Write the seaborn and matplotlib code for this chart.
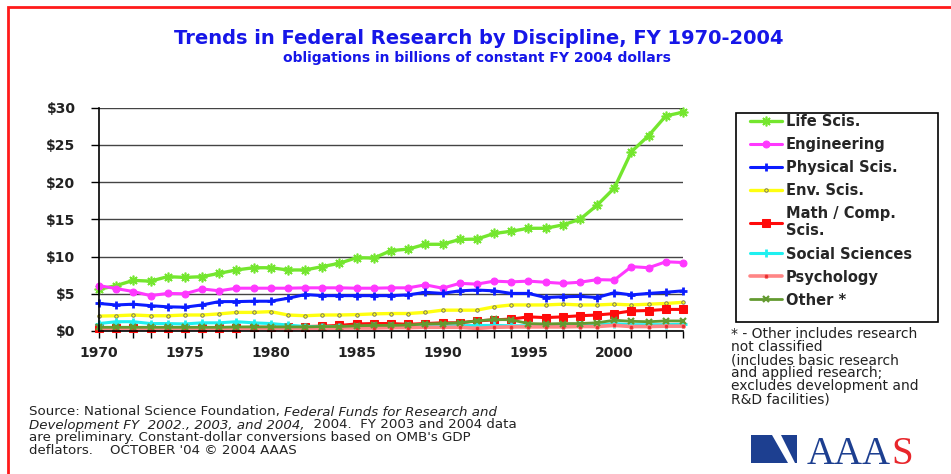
import numpy as np
import pandas as pd
import seaborn as sns
import matplotlib.pyplot as plt
from matplotlib.patches import Rectangle, Polygon
from matplotlib.ticker import MultipleLocator, FixedLocator

# obligations in billions of constant FY 2004 dollars
years = list(range(1970, 2005))

life = [5.6, 6.1, 6.8, 6.7, 7.3, 7.2, 7.3, 7.75, 8.2, 8.5, 8.5, 8.2, 8.2, 8.65, 9.1, 9.85, 9.8, 10.8,
        11.0, 11.65, 11.65, 12.3, 12.35, 13.1, 13.4, 13.8, 13.8, 14.25, 15.0, 16.9, 19.2, 24.1, 26.25, 28.9, 29.4]
engineering = [6.1, 5.7, 5.3, 4.75, 5.05, 5.0, 5.65, 5.4, 5.75, 5.75, 5.75, 5.75, 5.8, 5.8, 5.8, 5.75, 5.75, 5.8,
               5.8, 6.2, 5.75, 6.4, 6.3, 6.7, 6.6, 6.7, 6.55, 6.4, 6.55, 6.9, 6.85, 8.65, 8.5, 9.3, 9.2]
physical = [3.7, 3.5, 3.6, 3.4, 3.25, 3.2, 3.5, 3.95, 3.95, 4.0, 4.0, 4.4, 4.9, 4.75, 4.75, 4.75, 4.75, 4.75,
            4.85, 5.2, 5.05, 5.4, 5.5, 5.4, 5.05, 5.05, 4.5, 4.6, 4.65, 4.5, 5.15, 4.85, 5.05, 5.2, 5.4]
environment = [2.0, 2.05, 2.15, 2.05, 2.05, 2.15, 2.15, 2.3, 2.5, 2.5, 2.6, 2.15, 2.05, 2.15, 2.15, 2.2, 2.3, 2.35,
               2.35, 2.5, 2.8, 2.8, 2.8, 3.25, 3.5, 3.5, 3.5, 3.6, 3.5, 3.5, 3.6, 3.5, 3.6, 3.7, 3.85]
math_comp = [0.4, 0.4, 0.4, 0.4, 0.4, 0.4, 0.45, 0.45, 0.45, 0.5, 0.5, 0.55, 0.6, 0.65, 0.75, 0.95, 1.0, 1.0,
             0.9, 1.0, 1.1, 1.1, 1.35, 1.5, 1.6, 1.9, 1.8, 1.9, 2.05, 2.15, 2.35, 2.7, 2.75, 2.9, 2.9]
social = [1.0, 1.25, 1.25, 1.0, 1.0, 0.95, 1.1, 1.1, 1.25, 1.1, 1.0, 0.8, 0.6, 0.6, 0.6, 0.6, 0.65, 0.65,
          0.65, 0.7, 0.7, 0.7, 0.75, 0.75, 0.7, 0.7, 0.7, 0.7, 0.75, 0.8, 1.0, 0.85, 0.85, 0.85, 0.9]
psychology = [0.35, 0.35, 0.35, 0.35, 0.35, 0.35, 0.35, 0.35, 0.35, 0.35, 0.35, 0.35, 0.35, 0.35, 0.4, 0.4, 0.4, 0.45,
              0.45, 0.5, 0.5, 0.5, 0.35, 0.5, 0.55, 0.55, 0.55, 0.55, 0.6, 0.6, 0.75, 0.6, 0.6, 0.65, 0.65]
other = [0.5, 0.5, 0.5, 0.5, 0.5, 0.5, 0.5, 0.5, 0.55, 0.55, 0.55, 0.55, 0.55, 0.6, 0.6, 0.7, 0.75, 0.75,
         0.8, 0.95, 1.0, 1.1, 1.35, 1.55, 1.5, 1.0, 0.95, 1.0, 1.0, 1.1, 1.45, 1.3, 1.25, 1.35, 1.35]

labels = ["Life Scis.", "Engineering", "Physical Scis.", "Env. Scis.", "Math / Comp.\nScis.",
          "Social Sciences", "Psychology", "Other *"]
y_ticks = [0, 5, 10, 15, 20, 25, 30]
y_ticklabels = ["$0", "$5", "$10", "$15", "$20", "$25", "$30"]
x_ticks = [1970, 1975, 1980, 1985, 1990, 1995, 2000]

series = [life, engineering, physical, environment, math_comp, social, psychology, other]
styles = [
    dict(color="#74e62e", marker=(8, 2, 0), markersize=7, markeredgewidth=1.2, markeredgecolor="#74e62e",
         linewidth=2.4),
    dict(color="#ff38ff", marker="o", markersize=5, markeredgecolor="#ff38ff", linewidth=2.2),
    dict(color="#0b1cff", marker="+", markersize=6, markeredgewidth=2, markeredgecolor="#0b1cff", linewidth=2.2),
    dict(color="#ffff10", marker="o", markersize=2.5, markerfacecolor="#ffff10", markeredgecolor="#666666",
         markeredgewidth=0.6, linewidth=2.4),
    dict(color="#ff0a0a", marker="s", markersize=5.5, markeredgecolor="#ff0a0a", linewidth=2.2),
    dict(color="#1ff0f0", marker="+", markersize=6, markeredgewidth=2, markeredgecolor="#1ff0f0", linewidth=2.2),
    dict(color="#ff8585", marker="o", markersize=3, markerfacecolor="#e83030", markeredgecolor="#ff8585",
         markeredgewidth=0.5, linewidth=2.6),
    dict(color="#639a30", marker="x", markersize=5, markeredgewidth=1.6, markeredgecolor="#639a30", linewidth=2.0),
]

W, H = 951, 474

def px(x, y):
    return x / W, 1 - y / H

sns.set_style("white")
plt.rcParams["font.family"] = ["DejaVu Sans"]

fig = plt.figure(figsize=(W / 100, H / 100), dpi=100)
ax = fig.add_axes([99 / W, 1 - 331 / H, (683 - 99) / W, (331 - 107.7) / H])

for vals, lab, st in zip(series, labels, styles):
    sns.lineplot(x=years, y=vals, ax=ax, label=lab, clip_on=False, **st)

if ax.get_legend() is not None:
    ax.get_legend().remove()

ax.set_xlim(1970, 2004)
ax.set_ylim(0, 30)
ax.set_xlabel("")
ax.set_ylabel("")

ax.yaxis.set_major_locator(FixedLocator(y_ticks))
ax.set_yticklabels(y_ticklabels, fontsize=10, fontweight="bold", color="#222222")
ax.xaxis.set_major_locator(FixedLocator(x_ticks))
ax.xaxis.set_minor_locator(MultipleLocator(1))
ax.set_xticklabels([str(y) for y in x_ticks], fontsize=10, fontweight="bold", color="#222222")
ax.tick_params(axis="x", which="both", direction="out", length=5, width=1, color="black", bottom=True, pad=6)
ax.tick_params(axis="y", which="major", direction="out", length=6, width=1, color="black", left=True, pad=11)

ax.grid(axis="y", color="#444444", linewidth=1)
ax.grid(axis="x", visible=False)
ax.set_axisbelow(True)
for side in ["top", "right"]:
    ax.spines[side].set_visible(False)
for side in ["left", "bottom"]:
    ax.spines[side].set_color("black")
    ax.spines[side].set_linewidth(1.2)

# legend
handles, labs = ax.get_legend_handles_labels()
fig.legend(handles, labs, loc="upper left", bbox_to_anchor=px(750, 114), frameon=False,
           borderpad=0, borderaxespad=0, handlelength=2.2, handletextpad=0.25, labelspacing=0.55,
           prop={"weight": "bold", "size": 10.5})
x0, y0 = px(736, 322)
x1, y1 = px(938, 113)
fig.patches.append(Rectangle((x0, y0), x1 - x0, y1 - y0, transform=fig.transFigure,
                             fill=False, edgecolor="black", linewidth=1.2))

note = ("* - Other includes research\nnot classified\n(includes basic research\n"
        "and applied research;\nexcludes development and\nR&D facilities)")
fig.text(*px(731, 327), note, fontsize=10, va="top", ha="left", linespacing=0.92, color="#222222")

# titles
fig.text(*px(479, 38), "Trends in Federal Research by Discipline, FY 1970-2004", ha="center", va="center",
         fontsize=14, fontweight="bold", color="#1616e8")
fig.text(*px(477, 58), "obligations in billions of constant FY 2004 dollars", ha="center", va="center",
         fontsize=10, fontweight="bold", color="#1616e8")

# source note with italic pieces
renderer = fig.canvas.get_renderer()

def put_line(x, y, parts):
    for s, style in parts:
        t = fig.text(*px(x, y), s, fontsize=9.6, style=style, va="center", ha="left", color="#222222")
        x += t.get_window_extent(renderer=renderer).width

put_line(29, 412, [("Source: National Science Foundation, ", "normal"),
                   ("Federal Funds for Research and", "italic")])
put_line(29, 425, [("Development FY  2002., 2003, and 2004,", "italic"),
                   ("  2004.  FY 2003 and 2004 data", "normal")])
put_line(29, 438, [("are preliminary. Constant-dollar conversions based on OMB's GDP", "normal")])
put_line(29, 451, [("deflators.    OCTOBER '04 \u00a9 2004 AAAS", "normal")])

# AAAS logo
fig.patches.append(Polygon([px(751, 435), px(772, 435), px(788, 463), px(751, 463)], closed=True,
                           transform=fig.transFigure, facecolor="#1d3f90", edgecolor="none"))
fig.patches.append(Polygon([px(781, 435), px(797, 435), px(797, 463), px(795, 463)], closed=True,
                           transform=fig.transFigure, facecolor="#1d3f90", edgecolor="none"))
t = fig.text(*px(807, 464), "AAA", family="Liberation Serif", fontsize=28, color="#1d3f90",
             ha="left", va="baseline")
bb = t.get_window_extent(renderer=renderer)
fig.text(*px(807 + bb.width, 464), "S", family="Liberation Serif", fontsize=28, color="#e8262b",
         ha="left", va="baseline")

# red frame
fx0, fy0 = px(8, 480)
fx1, fy1 = px(960, 7)
fig.patches.append(Rectangle((fx0, fy0), fx1 - fx0, fy1 - fy0, transform=fig.transFigure,
                             fill=False, edgecolor="#ff1a1a", linewidth=2))

fig.savefig("out.png", dpi=100, facecolor="white")
